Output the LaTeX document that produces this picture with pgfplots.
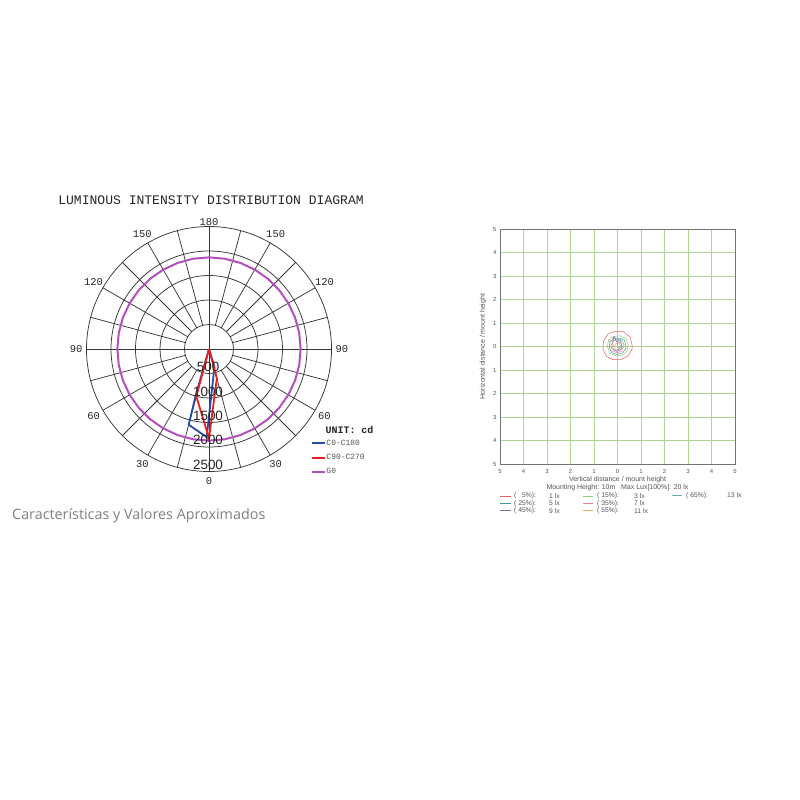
\documentclass[border=0pt]{standalone}
\usepackage{fontspec}
\setmainfont{Liberation Sans}
\newfontfamily\mono{Liberation Mono}
\newfontfamily\osans{Open Sans}
\usepackage{pgfplots}
\pgfplotsset{compat=1.18}
\definecolor{cblue}{RGB}{40,75,170}
\definecolor{cred}{RGB}{235,30,30}
\definecolor{cpurp}{RGB}{180,80,190}
\definecolor{pgrid}{RGB}{55,55,55}
\definecolor{gridg}{RGB}{172,214,145}
\definecolor{txtg}{RGB}{85,85,85}
\definecolor{k05}{RGB}{235,95,95}
\definecolor{k15}{RGB}{150,205,110}
\definecolor{k25}{RGB}{70,150,150}
\definecolor{k35}{RGB}{225,130,160}
\definecolor{k45}{RGB}{125,100,160}
\definecolor{k55}{RGB}{245,165,80}
\definecolor{k65}{RGB}{100,175,175}
\begin{document}
\begin{tikzpicture}
\path[fill=white, use as bounding box] (0,0) rectangle (800bp,-800bp);

% ---------------- polar diagram ----------------
\begin{axis}[
  at={(209bp,-349bp)}, anchor=center,
  scale only axis, width=245bp, height=245bp,
  xmin=-2500, xmax=2500, ymin=-2500, ymax=2500,
  hide axis, clip=false,
  legend style={at={(axis cs:2020,-1800)}, anchor=north west, draw=none, fill=none,
    font=\mono\fontsize{8}{8}\selectfont, text=txtg, row sep=6.5bp,
    nodes={inner sep=0.5bp}},
  legend cell align=left,
  legend image code/.code={\draw[#1] (0bp,0bp) -- (13bp,0bp);},
]
% grid
\pgfplotsinvokeforeach{500,1000,1500,2000,2500}{
  \draw[pgrid, line width=0.75bp] (axis cs:0,0) circle[radius=#1];
}
\pgfplotsinvokeforeach{15,30,...,345}{
  \draw[pgrid, line width=0.75bp] (axis cs:{500*cos(#1)},{500*sin(#1)}) -- (axis cs:{2500*cos(#1)},{2500*sin(#1)});
}
\draw[pgrid, line width=0.75bp] (axis cs:-2500,0) -- (axis cs:2500,0);
\draw[pgrid, line width=0.75bp] (axis cs:0,-2500) -- (axis cs:0,2500);

% G0
\addplot[cpurp, line width=2bp, data cs=polar, forget plot] coordinates {
 (0,1870) (10,1870) (20,1870) (30,1870) (40,1870) (50,1870) (60,1870) (70,1870) (80,1870)
 (90,1870) (100,1870) (110,1870) (120,1870) (130,1870) (140,1870) (150,1870) (160,1870)
 (170,1870) (180,1870) (190,1870) (200,1870) (210,1870) (220,1870) (230,1870) (240,1870)
 (250,1870) (260,1870) (270,1870) (280,1870) (290,1870) (300,1870) (310,1870) (320,1870)
 (330,1870) (340,1870) (350,1870) (360,1870)};
% C0-C180
\addplot[cblue, line width=1.8bp, data cs=polar] coordinates {
 (90,0) (-73,380) (-91.5,1800) (-105,1600) (-106,980) (90,0)};
% C90-C270
\addplot[cred, line width=1.8bp, data cs=polar] coordinates {
 (90,0) (-75,620) (-90,1820) (-105,1000) (90,0)};
\addlegendimage{cpurp, line width=1.8bp}
\legend{C0-C180, C90-C270, G0}

% angle labels
\begin{scope}[every node/.style={font=\mono\fontsize{10.5}{12}\selectfont, text=black!85}]
\node at (axis cs:0,2590) {180};
\node at (axis cs:0,-2700) {0};
\node at (axis cs:-1360,2356) {150};
\node at (axis cs:1360,2356) {150};
\node at (axis cs:-2356,1360) {120};
\node at (axis cs:2356,1360) {120};
\node at (axis cs:-2710,0) {90};
\node at (axis cs:2710,0) {90};
\node at (axis cs:-2356,-1360) {60};
\node at (axis cs:2356,-1360) {60};
\node at (axis cs:-1360,-2356) {30};
\node at (axis cs:1360,-2356) {30};
\end{scope}
% radial labels
\begin{scope}[every node/.style={font=\fontsize{13.5}{15}\selectfont, text=black!85}]
\node at (axis cs:-20,-370) {500};
\node at (axis cs:-20,-870) {1000};
\node at (axis cs:-20,-1360) {1500};
\node at (axis cs:-20,-1860) {2000};
\node at (axis cs:-20,-2360) {2500};
\end{scope}
\end{axis}

\node[font=\mono\fontsize{13.1}{14}\selectfont, text=black!85] at (211bp,-200bp) {LUMINOUS INTENSITY DISTRIBUTION DIAGRAM};
\node[font=\mono\bfseries\fontsize{10}{11}\selectfont, text=black!85] at (349.5bp,-430bp) {UNIT: cd};
\node[font=\osans\fontsize{14.4}{16}\selectfont, text=black!50, anchor=west, inner sep=0pt] at (12bp,-515.5bp) {Características y Valores Aproximados};

% ---------------- isolux diagram ----------------
\begin{axis}[
  at={(500bp,-464bp)}, anchor=south west,
  scale only axis, width=235bp, height=235bp,
  xmin=-5, xmax=5, ymin=-5, ymax=5,
  xtick={-5,...,5}, ytick={-5,...,5},
  xticklabels={5,4,3,2,1,0,1,2,3,4,5},
  yticklabels={5,4,3,2,1,0,1,2,3,4,5},
  /pgf/number format/assume math mode=true,
  grid=major, grid style={gridg, line width=0.6bp},
  axis line style={black!55, line width=0.6bp},
  major tick length=0pt,
  tick label style={font=\fontsize{6}{7}\selectfont, text=txtg},
  xticklabel style={yshift=-2bp},
  xlabel={Vertical distance / mount height\\Mounting Height: 10m \ \ Max Lux[100\%]: 20 lx},
  xlabel style={at={(axis description cs:0.5,-0.084)}, anchor=center, align=center,
    font=\fontsize{7}{7.5}\selectfont, text=txtg},
  ylabel={Horizontal distance / mount height},
  ylabel style={at={(axis description cs:-0.072,0.5)}, anchor=center,
    font=\fontsize{7}{8}\selectfont, text=txtg},
]
\addplot[k05, line width=0.5bp] coordinates {(0.62,0.05) (0.54,0.40) (0.25,0.63) (-0.10,0.65) (-0.42,0.52) (-0.60,0.22) (-0.62,-0.10) (-0.48,-0.40) (-0.20,-0.56) (0.15,-0.56) (0.45,-0.40) (0.62,-0.12) (0.62,0.05)};
\addplot[k15, line width=0.5bp] coordinates {(0.46,0.05) (0.38,0.32) (0.12,0.45) (-0.15,0.44) (-0.38,0.28) (-0.43,0.0) (-0.33,-0.28) (-0.08,-0.40) (0.20,-0.38) (0.40,-0.20) (0.46,0.05)};
\addplot[k25, line width=0.5bp] coordinates {(0.36,0.02) (0.30,0.26) (0.08,0.36) (-0.16,0.34) (-0.32,0.18) (-0.35,-0.05) (-0.25,-0.26) (-0.02,-0.34) (0.20,-0.28) (0.34,-0.12) (0.36,0.02)};
\addplot[k35, line width=0.5bp] coordinates {(0.28,0.05) (0.22,0.22) (0.02,0.30) (-0.18,0.24) (-0.28,0.05) (-0.22,-0.18) (-0.02,-0.27) (0.18,-0.20) (0.28,0.05)};
\addplot[k45, line width=0.6bp] coordinates {(0.20,0.02) (0.14,0.18) (-0.05,0.22) (-0.12,0.42) (-0.18,0.40) (-0.20,0.12) (-0.20,-0.10) (-0.05,-0.20) (0.14,-0.14) (0.20,0.02)};
\addplot[k55, line width=0.5bp] coordinates {(0.14,0.0) (0.08,0.12) (-0.06,0.13) (-0.14,0.02) (-0.08,-0.12) (0.06,-0.13) (0.14,0.0)};
\addplot[k65, line width=0.6bp] coordinates {(0.16,0.05) (0.12,0.30) (0.04,0.32) (0.0,0.08) (0.04,-0.08) (0.12,-0.06) (0.16,0.05)};
\end{axis}

% isolux legend
\begin{scope}[every node/.style={font=\fontsize{6.8}{7}\selectfont, text=txtg, anchor=west, inner sep=0pt}]
\draw[k05, line width=0.5bp] (500bp,-496bp) -- (511bp,-496bp);
\node at (514bp,-496bp) {( \phantom{0}5\%):}; \node at (549bp,-496bp) {1 lx};
\draw[k25, line width=0.5bp] (500bp,-503.3bp) -- (511bp,-503.3bp);
\node at (514bp,-503.3bp) {( 25\%):}; \node at (549bp,-503.3bp) {5 lx};
\draw[k45, line width=0.5bp] (500bp,-510.7bp) -- (511bp,-510.7bp);
\node at (514bp,-510.7bp) {( 45\%):}; \node at (549bp,-510.7bp) {9 lx};
\draw[k15, line width=0.5bp] (583bp,-496bp) -- (593bp,-496bp);
\node at (597bp,-496bp) {( 15\%):}; \node at (634bp,-496bp) {3 lx};
\draw[k35, line width=0.5bp] (583bp,-503.3bp) -- (593bp,-503.3bp);
\node at (597bp,-503.3bp) {( 35\%):}; \node at (634bp,-503.3bp) {7 lx};
\draw[k55, line width=0.5bp] (583bp,-510.7bp) -- (593bp,-510.7bp);
\node at (597bp,-510.7bp) {( 55\%):}; \node at (634bp,-510.7bp) {11 lx};
\draw[k65, line width=0.5bp] (672bp,-495.3bp) -- (682bp,-495.3bp);
\node at (686bp,-495.3bp) {( 65\%):}; \node at (727bp,-495.3bp) {13 lx};
\end{scope}
\end{tikzpicture}
\end{document}
